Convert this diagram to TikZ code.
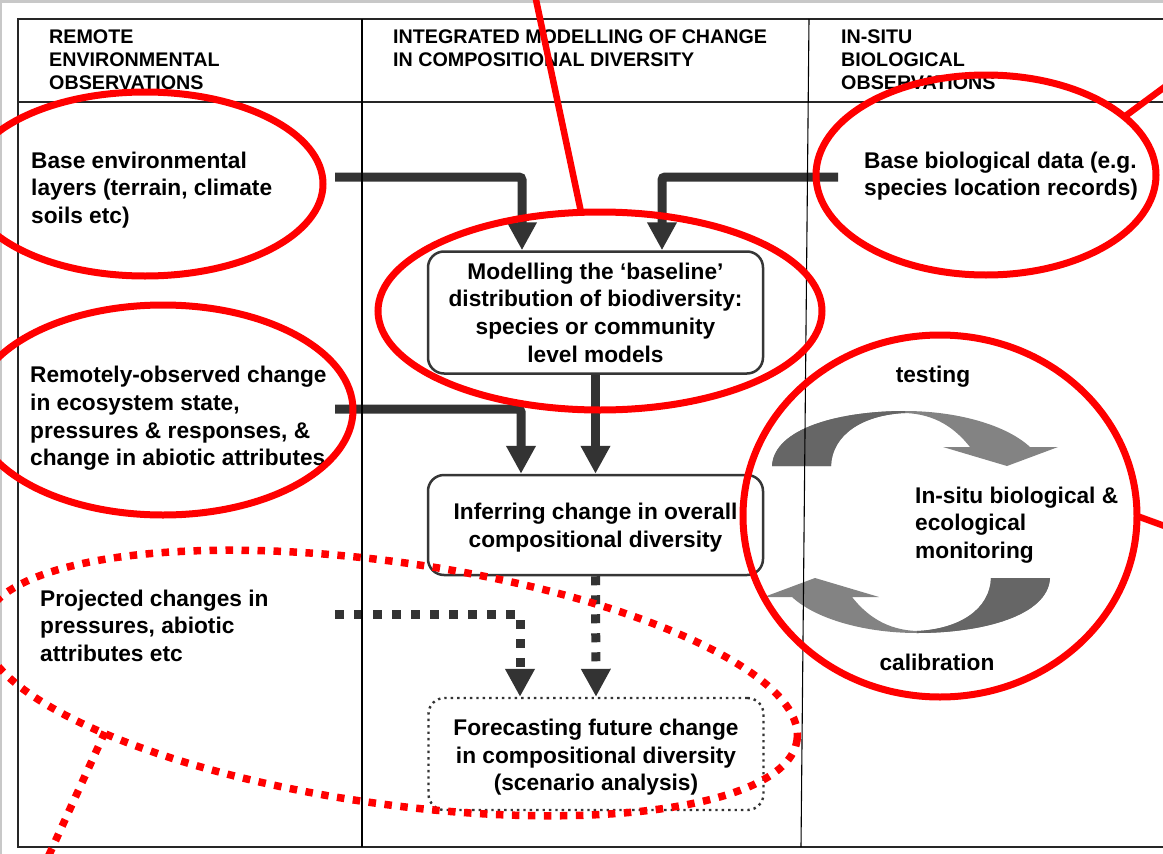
\documentclass[tikz,border=0pt]{standalone}
\usepackage{fontspec}
\setmainfont{Liberation Sans}
\usetikzlibrary{arrows.meta}
\definecolor{arrgray}{HTML}{333333}
\definecolor{boxgray}{HTML}{363636}
\definecolor{cycdark}{HTML}{666666}
\definecolor{cyclight}{HTML}{838383}
\definecolor{margingray}{HTML}{C8C8C8}
\definecolor{redmark}{HTML}{FF0000}
\definecolor{framecol}{HTML}{262626}
\newcommand\cyclearrowpath{(772,466) .. controls (774,428) and (840,411) .. (905,411) .. controls (955,411) and (1005,424) .. (1030,447) -- (1058,447) -- (1007,466) -- (943,447) -- (970,447) .. controls (955,428) and (935,414) .. (905,413) .. controls (862,415) and (832,435) .. (831,466) -- cycle}
\begin{document}
\begin{tikzpicture}[x=1pt,y=-1pt,
  hdr/.style={font=\fontsize{19.7}{23}\selectfont\bfseries, align=left, anchor=north west, inner sep=0pt},
  body/.style={font=\fontsize{22.7}{27.7}\selectfont\bfseries, align=left, anchor=north west, inner sep=0pt},
  procbox/.style={draw=boxgray, line width=2.5pt, rounded corners=16pt, minimum width=335pt,
    font=\fontsize{22.7}{27.7}\selectfont\bfseries, align=center, inner sep=0pt},
  forebox/.style={procbox, draw=arrgray, line width=2.4pt, dash pattern=on 2.4pt off 4pt},
  flow/.style={draw=arrgray, line width=9pt, rounded corners=3pt, -{Triangle[width=28pt,length=28pt]}},
  flowdash/.style={flow, dash pattern=on 9pt off 10pt},
  redring/.style={draw=redmark, line width=7pt},
  reddots/.style={draw=redmark, line width=7.5pt, dash pattern=on 7.5pt off 8.5pt},
  redline/.style={draw=redmark, line width=6.5pt},
  framel/.style={draw=framecol, line width=1.6pt},
  coll/.style={draw=black, line width=1.1pt}]
\useasboundingbox (0,0) rectangle (1163,854);
\clip (0,0) rectangle (1163,854);
\fill[white] (0,0) rectangle (1163,854);
\fill[margingray] (0,0) rectangle (1163,3);
\fill[margingray] (0,0) rectangle (2,854);

% cycle arrows
\fill[cyclight] \cyclearrowpath;
\begin{scope}
  \clip (700,380) rectangle (905,480);
  \fill[cycdark] \cyclearrowpath;
\end{scope}
\begin{scope}[rotate around={180:(911,522)}]
  \fill[cyclight] \cyclearrowpath;
  \begin{scope}
    \clip (700,380) rectangle (905,480);
    \fill[cycdark] \cyclearrowpath;
  \end{scope}
\end{scope}

% boxes
\node[procbox, minimum height=122pt] (model) at (595.5,312.5)
  {Modelling the ‘baseline’\\distribution of biodiversity:\\species or community\\level models};
\node[procbox, minimum height=100pt] (infer) at (595.5,525)
  {\rule{0pt}{22.4pt}Inferring change in overall\\compositional diversity};
\node[forebox, minimum height=112pt] (fore) at (596,754)
  {\rule{0pt}{22.8pt}Forecasting future change\\in compositional diversity\\(scenario analysis)};

% connector start points
\coordinate (envout) at (335,177);
\coordinate (bioout) at (838,177);
\coordinate (remout) at (335,409);
\coordinate (projout) at (335,614);

\draw[flow] (envout) -| ([xshift=-73.5pt]model.north);
\draw[flow] (bioout) -| ([xshift=66.5pt]model.north);
\draw[flow] (remout) -| ([xshift=-74.5pt]infer.north);
\draw[flow] (model.south) -- (infer.north);
\draw[flowdash] (projout) -| ([xshift=-76pt]fore.north);
\draw[flowdash] (infer.south) -- (fore.north);

% frame
\draw[framel] (1170,19) -- (18,19) -- (18,847) -- (1170,847);
\draw[framel] (18,102) -- (1170,102);
\draw[coll] (362,19) -- (362,847);
\draw[coll] (809,19) -- (801,847);

% headers
\node[hdr] (h1) at (49,30) {REMOTE\\ENVIRONMENTAL\\OBSERVATIONS};
\node[hdr] (h2) at (393,30) {INTEGRATED MODELLING OF CHANGE\\IN COMPOSITIONAL DIVERSITY};
\node[hdr] (h3) at (841,30) {IN-SITU\\BIOLOGICAL\\OBSERVATIONS};

% texts
\node[body] (env) at (31,151.5) {Base environmental\\layers (terrain, climate\\soils etc)};
\node[body] (bio) at (864,151.5) {Base biological data (e.g.\\species location records)};
\node[body] (remote) at (30,366) {Remotely-observed change\\in ecosystem state,\\pressures \& responses, \&\\change in abiotic attributes};
\node[body] (proj) at (40,589.5) {Projected changes in\\pressures, abiotic\\attributes etc};
\node[body] (mon) at (915,486.5) {In-situ biological \&\\ecological\\monitoring};
\node[body, anchor=base] (testing) at (933,382) {testing};
\node[body, anchor=base] (calib) at (937,670) {calibration};

% red annotations
\draw[redring] (145,184) ellipse [x radius=178pt, y radius=92pt];
\draw[redring] (986,175) ellipse [x radius=170pt, y radius=100pt];
\draw[redring] (600,311) ellipse [x radius=222pt, y radius=99pt];
\draw[redring] (163,410) ellipse [x radius=190pt, y radius=105pt];
\draw[redring] (940,516) ellipse [x radius=197pt, y radius=181pt];
\draw[reddots, rotate around={-8:(390,683)}] (390,683) ellipse [x radius=411pt, y radius=121pt];
\draw[redline] (535,-5) -- (581,212);
\draw[redline] (1124,117) -- (1170,83);
\draw[redline] (1137,516) -- (1170,528);
\draw[reddots] (105,732) -- (44,866);
\end{tikzpicture}
\end{document}
